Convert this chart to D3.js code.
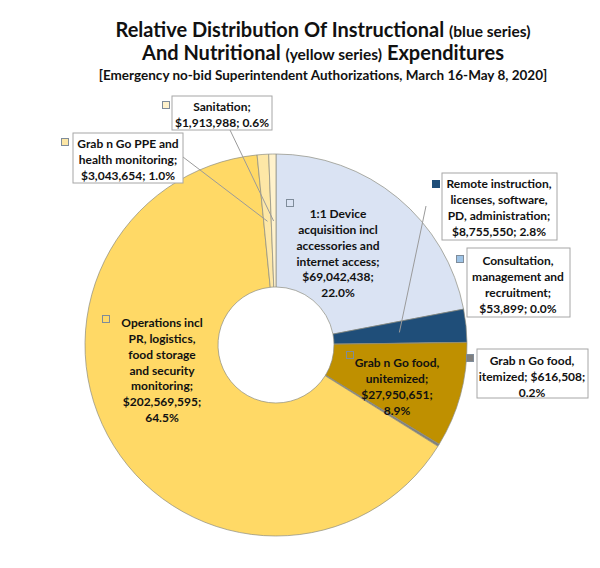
<!DOCTYPE html>
<html>
<head>
<meta charset="utf-8">
<script src="https://cdn.jsdelivr.net/npm/d3@7"></script>
<style>
  body { margin: 0; background: #fff; }
  text { font-family: Lato, "Open Sans", sans-serif; font-weight: bold; fill: #111; }
</style>
</head>
<body>
<script>
// data (order = clockwise from 12 o'clock)
var categories = [
  "1:1 Device acquisition incl accessories and internet access",
  "Remote instruction, licenses, software, PD, administration",
  "Consultation, management and recruitment",
  "Grab n Go food, unitemized",
  "Grab n Go food, itemized",
  "Operations incl PR, logistics, food storage and security monitoring",
  "Grab n Go PPE and health monitoring",
  "Sanitation"
];
var values = [69042438, 8755550, 53899, 27950651, 616508, 202569595, 3043654, 1913988];
// how each label wraps ({v} = amount, {p} = percent)
var labelLines = [
  "1:1 Device|acquisition incl|accessories and|internet access;|{v};|{p}",
  "Remote instruction,|licenses, software,|PD, administration;|{v}; {p}",
  "Consultation,|management and|recruitment;|{v}; {p}",
  "Grab n Go food,|unitemized;|{v};|{p}",
  "Grab n Go food,|itemized; {v};|{p}",
  "Operations incl|PR, logistics,|food storage|and security|monitoring;|{v};|{p}",
  "Grab n Go PPE and|health monitoring;|{v}; {p}",
  "Sanitation;|{v}; {p}"
];
var titleLines = [
  ["Relative Distribution Of Instructional ", "(blue series)"],
  ["And Nutritional ", "(yellow series)", " Expenditures"],
  ["[Emergency no-bid Superintendent Authorizations, March 16-May 8, 2020]"]
];

var colors = ["#dae3f3", "#1f4e79", "#9dc3e6", "#bf9000", "#7f7f7f", "#ffd966", "#fde7a6", "#fff2cc"];

var width = 600, height = 568;
var cx = 276, cy = 345, outerR = 191, innerR = 58;

// label placement (text centre x, first line y, optional box, marker)
var layout = [
  {x: 338, y: 214, marker: [290, 203]},
  {x: 499, y: 184, box: [442, 173, 115, 67], marker: [436, 184], lead: [426, 206]},
  {x: 518, y: 261, box: [467, 248, 103, 69], marker: [460, 259]},
  {x: 397, y: 363, marker: [350, 355]},
  {x: 532, y: 361, box: [477, 349, 111, 49], marker: [470, 358]},
  {x: 162, y: 323, marker: [106, 319]},
  {x: 128, y: 144, box: [73, 133, 110, 50], marker: [65, 142], lead: [183, 157]},
  {x: 222, y: 107, box: [172, 96, 100, 34], marker: [166, 105], lead: [230, 130]}
];

var svg = d3.select("body").append("svg")
    .attr("width", width)
    .attr("height", height);

// title
var title = svg.append("g");
var tSizes = [[20, 15.5], [20, 15.5, 20], [13.5]];
titleLines.forEach(function(parts, i) {
  var t = title.append("text")
      .attr("x", 323)
      .attr("y", [37, 60, 80][i])
      .attr("text-anchor", "middle");
  parts.forEach(function(p, j) {
    t.append("tspan").attr("font-size", tSizes[i][j]).text(p);
  });
});

var total = d3.sum(values);
var fmtV = d3.format("$,.0f");
var fmtP = d3.format(".1%");

var pie = d3.pie().sort(null).value(function(d) { return d; });
var arcs = pie(values);

var arc = d3.arc().innerRadius(innerR).outerRadius(outerR);
var midArc = d3.arc().innerRadius(124).outerRadius(124);

var g = svg.append("g").attr("transform", "translate(" + cx + "," + cy + ")");

g.selectAll("path.slice")
  .data(arcs)
  .enter().append("path")
    .attr("class", "slice")
    .attr("d", arc)
    .attr("fill", function(d, i) { return colors[i]; })
    .attr("stroke", "#8c8c80")
    .attr("stroke-width", 0.7);

// leader lines to slice middles
layout.forEach(function(l, i) {
  if (!l.lead) return;
  var c = midArc.centroid(arcs[i]);
  svg.append("line")
      .attr("x1", l.lead[0]).attr("y1", l.lead[1])
      .attr("x2", cx + c[0]).attr("y2", cy + c[1])
      .attr("stroke", "#9a9a9a")
      .attr("stroke-width", 1);
});

// labels
layout.forEach(function(l, i) {
  if (l.box) {
    svg.append("rect")
        .attr("x", l.box[0]).attr("y", l.box[1])
        .attr("width", l.box[2]).attr("height", l.box[3])
        .attr("fill", "#fff")
        .attr("stroke", "#a6a6a6")
        .attr("stroke-width", 1);
  }
  svg.append("rect")
      .attr("x", l.marker[0] - 3.5).attr("y", l.marker[1] - 3.5)
      .attr("width", 7).attr("height", 7)
      .attr("fill", colors[i])
      .attr("stroke", i == 1 ? "#1f4e79" : "#7f8c9a")
      .attr("stroke-width", 1);

  var lines = labelLines[i]
      .replace("{v}", fmtV(values[i]))
      .replace("{p}", fmtP(values[i] / total))
      .split("|");
  var t = svg.append("text")
      .attr("text-anchor", "middle")
      .attr("font-size", 12);
  lines.forEach(function(s, k) {
    t.append("tspan")
        .attr("x", l.x)
        .attr("y", l.y + k * 15.8)
        .attr("dy", "0.35em")
        .text(s);
  });
});
</script>
</body>
</html>
